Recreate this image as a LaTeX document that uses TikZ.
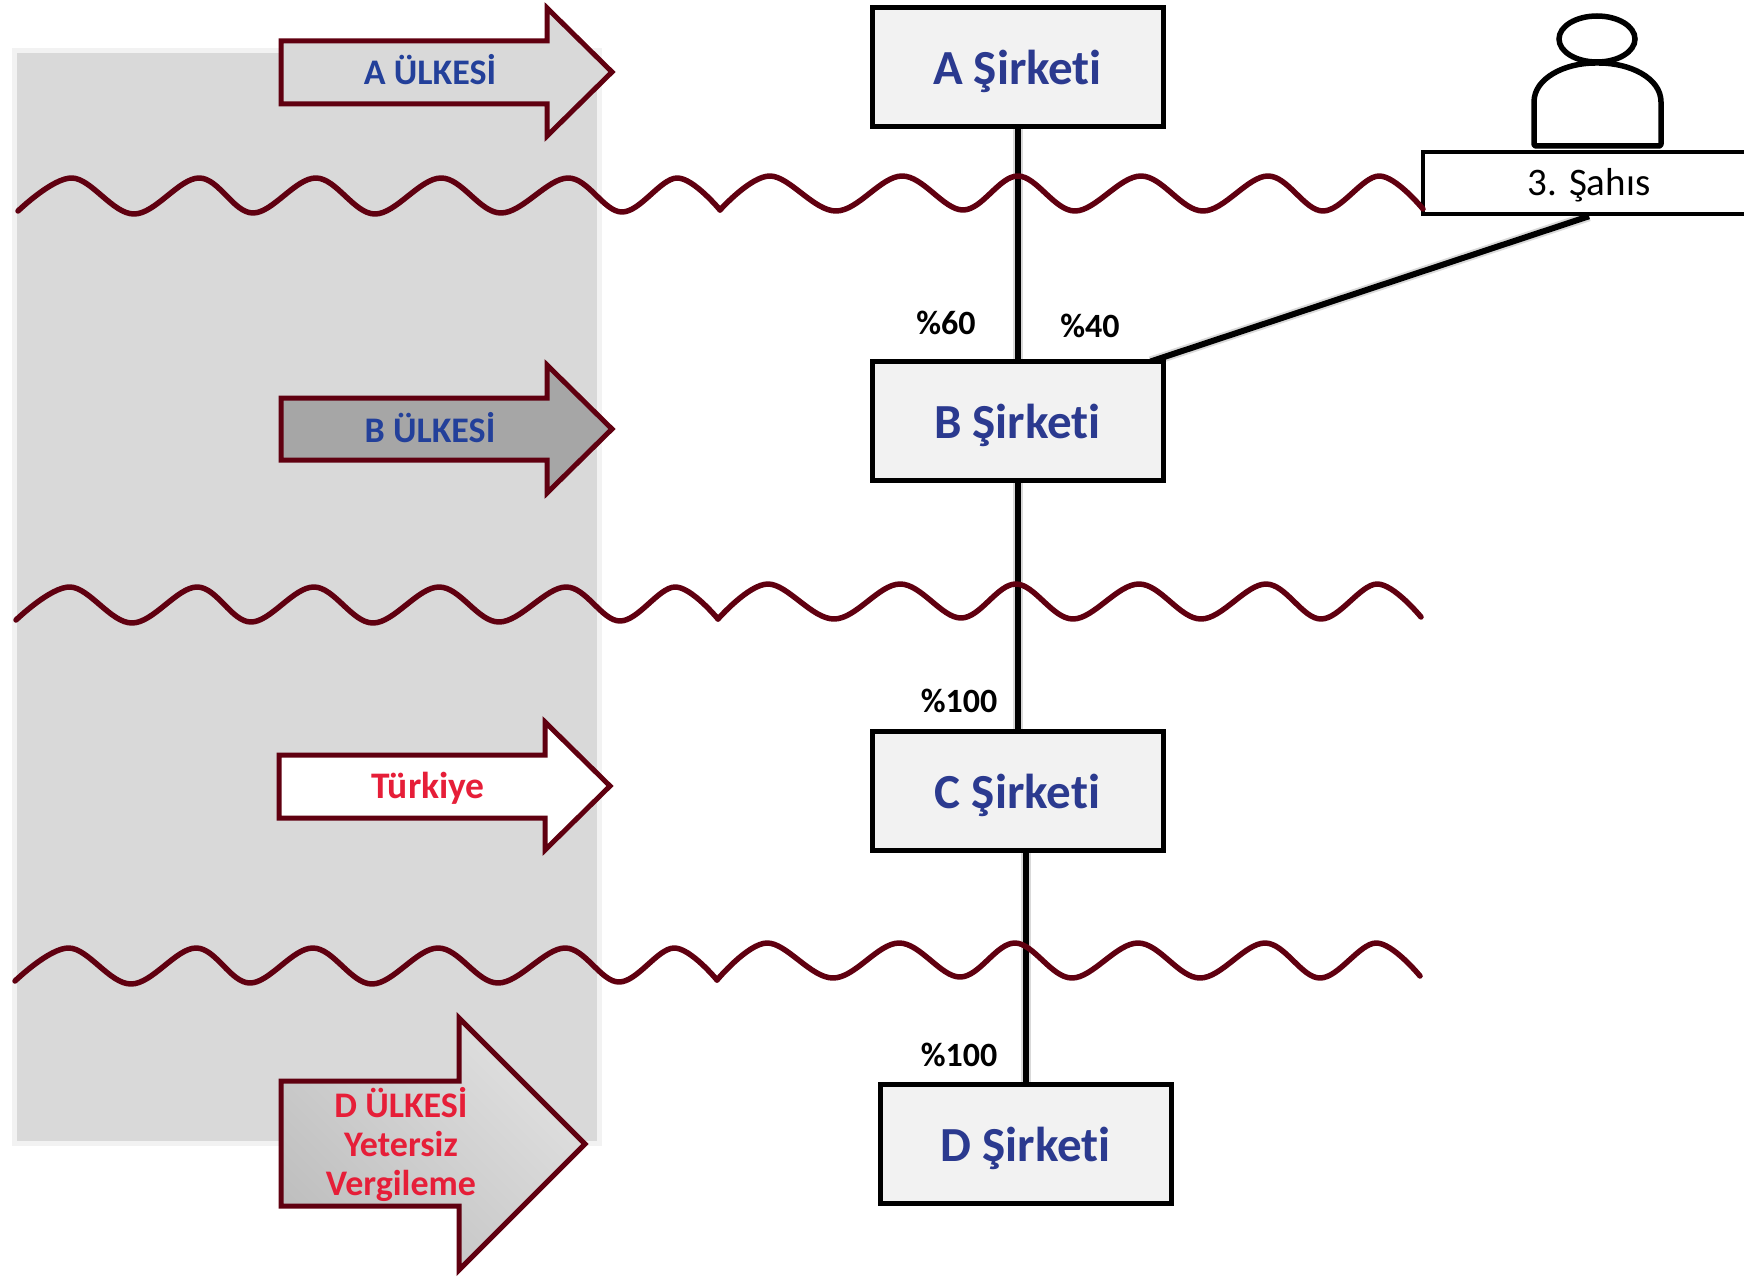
\documentclass[tikz,border=0pt]{standalone}
\usepackage{fontspec}
\setmainfont[Ligatures=NoCommon]{Carlito}
\usetikzlibrary{positioning,calc,shapes.geometric,backgrounds}
\definecolor{maroon}{HTML}{600010}
\definecolor{firmblue}{HTML}{2B3A8F}
\definecolor{landblue}{HTML}{23409A}
\definecolor{taxred}{HTML}{E61E38}
\tikzset{
  company/.style={rectangle, draw=black, line width=5pt, fill=black!5, text=firmblue, text height=38pt, text depth=3pt,
                  font=\fontsize{49}{53}\selectfont\bfseries, minimum width=291pt, minimum height=119pt, inner sep=0pt},
  landarrow/.style={draw=maroon, line width=5pt, miter limit=10},
  landtext/.style={font=\fontsize{36}{39}\selectfont\bfseries, align=center, inner sep=0pt},
  share/.style={font=\fontsize{34}{36}\selectfont\bfseries, inner sep=0pt},
  link/.style={line width=6pt, black, preaction={draw=black!15, line width=10pt}},
  wavy/.style={line width=5.5pt, maroon, line cap=round, line join=round},
}
\begin{document}
\begin{tikzpicture}[x=1pt, y=-1pt]
  \useasboundingbox (0,0) rectangle (1744,1276);

  % ----- Shaded region -----
  \fill[black!15, draw=black!5, line width=5pt] (14.5,50.5) rectangle (599.5,1143.5);

  % ----- Companies -----
  \node[company] (as) at (1017.5,67.5) {A Şirketi};
  \node[company] (bs) at (1017.5,420.5) {B Şirketi};
  \node[company] (cs) at (1017.5,790.5) {C Şirketi};
  \node[company] (ds) at (1025.5,1143.5) {D Şirketi};

  % ----- Third party -----
  \node[rectangle, draw=black, line width=4.5pt, fill=white, minimum width=332pt, minimum height=62pt,
        inner sep=0pt, text height=30pt, text depth=4pt, font=\fontsize{39}{42}\selectfont] (sahis) at (1589,183) {3. Şahıs};
  \draw[line width=5.5pt, line join=round, rounded corners=2pt] (1534,146) -- (1534,104)
    .. controls (1534,78) and (1565,63) .. (1597,63)
    .. controls (1630,63) and (1661,78) .. (1661,104) -- (1661,146) -- cycle;
  \node[ellipse, draw=black, line width=5.5pt, minimum width=76pt, minimum height=46pt, inner sep=0pt] (head) at (1597,39) {};

  % ----- Links -----
  \coordinate (bsk) at ($(bs.north east)+(-15,3)$);
  \begin{scope}[on background layer]
    \draw[link] (as.south) -- (bs.north);
    \draw[link] (bs.south) -- (cs.north);
    \draw[link] (ds.north |- cs.south) -- (ds.north);
    \draw[link] (sahis.south) -- (bsk);
  \end{scope}

  % ----- Borders between countries -----
  \foreach \wx/\wy/\wz in {0/0/0,-2/409/1,-3/770/3} {
    \begin{scope}[shift={(\wx,\wy)}]
      \draw[wavy] plot[smooth, tension=0.6] coordinates {(18,211) (72,178) (134,214) (199,178) (253,213) (316,178) (375,214) (441,178) (501,213) (568,178) (622,212) (677,178) (720,210)};
      \begin{scope}[yshift=\wz]
        \draw[wavy] plot[smooth, tension=0.6] coordinates {(720,{210+\wz}) (770,176) (836,211) (902,176) (963,210) (1018,176) (1075,211) (1141,176) (1203,211) (1268,176) (1323,211) (1379,176) (1423,209)};
      \end{scope}
    \end{scope}
  }

  % ----- Countries -----
  \draw[landarrow, fill=black!15] (281,41) -- (547,41) -- (547,8) -- (612,72) -- (547,136) -- (547,104) -- (281,104) -- cycle;
  \draw[landarrow, fill=black!35] (281,398) -- (547,398) -- (547,365) -- (612,429) -- (547,493) -- (547,460) -- (281,460) -- cycle;
  \draw[landarrow, fill=white] (279,755) -- (545,755) -- (545,722) -- (610,786) -- (545,850) -- (545,818) -- (279,818) -- cycle;
  \draw[landarrow, left color=black!25, right color=black!12, shading angle=135] (281,1081) -- (459,1081) -- (459,1018) -- (585,1144) -- (459,1270) -- (459,1206) -- (281,1206) -- cycle;

  \node[landtext, text=landblue] (au) at (430,70) {A ÜLKESİ};
  \node[landtext, text=landblue] (bu) at (430,428) {B ÜLKESİ};
  \node[landtext, text=taxred, font=\fontsize{37.5}{39}\selectfont\bfseries] (tr) at (428,788) {Türkiye};
  \node[landtext, text=taxred] (du) at (401,1144) {D ÜLKESİ\\Yetersiz\\Vergileme};

  % ----- Shares -----
  \node[share] (s60) at (946,323) {\%60};
  \node[share] (s40) at (1090,326) {\%40};
  \node[share] (s100a) at (959,701) {\%100};
  \node[share] (s100b) at (959,1055) {\%100};
\end{tikzpicture}
\end{document}
